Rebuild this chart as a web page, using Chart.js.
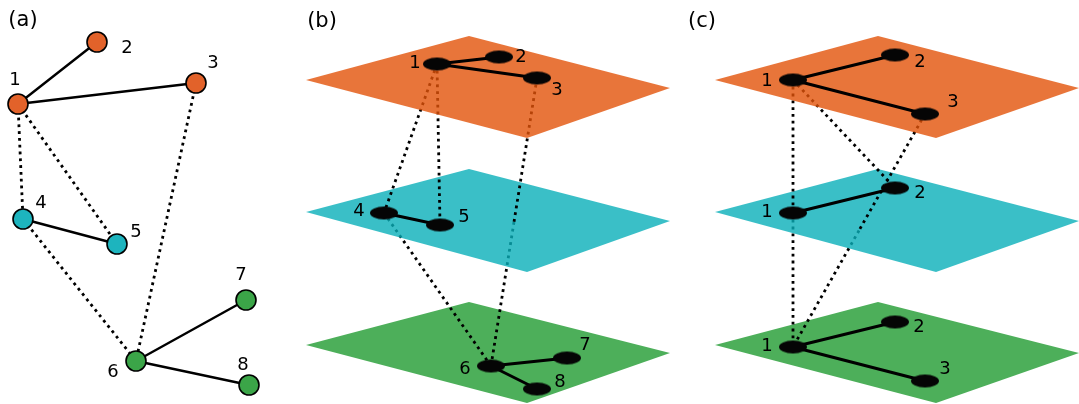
<!DOCTYPE html>
<html><head><meta charset="utf-8">
<script src="https://cdn.jsdelivr.net/npm/chart.js@4/dist/chart.umd.min.js"></script>
<style>html,body{margin:0;padding:0;background:#fff;overflow:hidden}canvas{display:block}</style>
</head><body>
<canvas id="c" width="1079" height="404" style="width:1079px;height:404px"></canvas>
<script>
// ---------------- DATA ----------------
// Panel (a): flat network (node coordinates)
const aNodeX = [18, 97, 196, 23, 117, 136, 246, 249];
const aNodeY = [104, 42, 83, 219, 244, 361, 300, 385];
const aNodeLayer = [0, 0, 0, 1, 1, 2, 2, 2];
const aLabels = ['1', '2', '3', '4', '5', '6', '7', '8'];

// Panel (b): multilayer with original node ids
const bNodeX = [437, 499, 537, 384, 440, 491, 567, 537];
const bNodeY = [64, 57, 78, 213, 225, 366, 358, 389];
const bNodeLayer = [0, 0, 0, 1, 1, 2, 2, 2];
const bLabels = ['1', '2', '3', '4', '5', '6', '7', '8'];

// Panel (c): multilayer with per-layer ids
const cNodeX = [793, 895, 925, 793, 895, 793, 895, 925];
const cNodeY = [80, 55, 114, 213, 188, 347, 322, 381];
const cNodeLayer = [0, 0, 0, 1, 1, 2, 2, 2];
const cLabels = ['1', '2', '3', '1', '2', '1', '2', '3'];

// Edges (same structure in all three panels)
const solidEdges = [[0, 1], [0, 2], [3, 4], [5, 6], [5, 7]];
const dottedEdges = [[0, 3], [0, 4], [2, 5], [3, 5]];

// Layer planes (parallelogram corners)
const bPlaneX = [306, 469, 670, 527];
const cPlaneX = [715, 878, 1079, 936];
const planeYTop = [80, 36, 88, 138];
const planeYMid = [212, 169, 221, 272];
const planeYBot = [345, 302, 353, 403];

const panelTitles = ['(a)', '(b)', '(c)'];

// ---------------- STYLE ----------------
const nodeColors = ['#E2622A', '#1DB4BE', '#3BA548'];
const planeColors = ['rgba(226,83,9,0.8)', 'rgba(9,175,185,0.8)', 'rgb(77,175,90)'];
const aLabelOff = [[-3,-24],[30,6],[17,-20],[18,-16],[19,-12],[-23,11],[-5,-25],[-6,-20]];
const bLabelOff = [[-22,-1],[22,0],[20,12],[-25,-2],[24,-8],[-26,3],[18,-13],[23,-7]];
const cLabelOff = [[-26,1],[25,7],[28,-12],[-26,-1],[25,5],[-26,-1],[24,5],[20,-12]];
const titlePos = [[23,21],[322,22],[702,22]];

const ell = document.createElement('canvas');
ell.width = 30; ell.height = 15;
(function(){const g = ell.getContext('2d'); g.fillStyle = '#050505'; g.beginPath(); g.ellipse(15, 7.5, 14, 6.5, 0, 0, Math.PI * 2); g.fill();})();

const datasets = [];
function pt(xs, ys, i) { return {x: xs[i], y: ys[i]}; }
function seg(p, q, dotted, order, width) {
  datasets.push({
    data: [p, q], showLine: true, pointRadius: 0, fill: false, tension: 0,
    borderColor: '#000', borderWidth: width || 2.8,
    borderDash: dotted ? [2.8, 4] : [], borderCapStyle: dotted ? 'butt' : 'round', order: order
  });
}
function plane(xs, ys, color, order) {
  const d = xs.map((x, i) => ({x: x, y: ys[i]}));
  d.push({x: xs[0], y: ys[0]});
  datasets.push({data: d, showLine: true, pointRadius: 0, fill: 'shape', backgroundColor: color,
    borderWidth: 0, borderColor: 'rgba(0,0,0,0)', tension: 0, order: order});
}
// order: lower = drawn on top
const ORD = {nodes: 1, edges: 2, topPlane: 3, upper: 4, midPlane: 5, lower: 6, botPlane: 7};

[bPlaneX, cPlaneX].forEach(px => {
  plane(px, planeYTop, planeColors[0], ORD.topPlane);
  plane(px, planeYMid, planeColors[1], ORD.midPlane);
  plane(px, planeYBot, planeColors[2], ORD.botPlane);
});

function panel(xs, ys, layers, isFlat) {
  solidEdges.forEach(([i, j]) => seg(pt(xs, ys, i), pt(xs, ys, j), false, ORD.edges, isFlat ? 2.4 : 3));
  dottedEdges.forEach(([i, j]) => {
    const p = pt(xs, ys, i), q = pt(xs, ys, j);
    const li = layers[i], lj = layers[j];
    if (isFlat) { seg(p, q, true, ORD.upper, 2.8); return; }
    if (li === 0 && lj === 1) seg(p, q, true, ORD.upper);
    else if (li === 1 && lj === 2) seg(p, q, true, ORD.lower);
    else {
      const m = {x: (p.x + q.x) / 2, y: (p.y + q.y) / 2};
      seg(p, m, true, ORD.upper);
      seg(m, q, true, ORD.lower);
    }
  });
  const d = xs.map((x, i) => ({x: x, y: ys[i]}));
  if (isFlat) {
    datasets.push({data: d, pointRadius: 10, pointHoverRadius: 10, pointStyle: 'circle',
      pointBackgroundColor: layers.map(l => nodeColors[l]), pointBorderColor: '#000',
      pointBorderWidth: 1.6, showLine: false, order: ORD.nodes});
  } else {
    datasets.push({data: d, pointRadius: 7, pointHoverRadius: 7, pointStyle: ell,
      showLine: false, order: ORD.nodes});
  }
}
panel(aNodeX, aNodeY, aNodeLayer, true);
panel(bNodeX, bNodeY, bNodeLayer, false);
panel(cNodeX, cNodeY, cNodeLayer, false);

const labelPlugin = {
  id: 'nodeLabels',
  afterDatasetsDraw(chart) {
    const ctx = chart.ctx, sx = chart.scales.x, sy = chart.scales.y;
    ctx.save();
    ctx.fillStyle = '#000';
    ctx.textAlign = 'center';
    ctx.textBaseline = 'middle';
    ctx.font = '18px "DejaVu Sans"';
    [[aNodeX, aNodeY, aLabels, aLabelOff], [bNodeX, bNodeY, bLabels, bLabelOff], [cNodeX, cNodeY, cLabels, cLabelOff]]
      .forEach(([xs, ys, lb, off]) => {
        lb.forEach((t, i) => ctx.fillText(t, sx.getPixelForValue(xs[i]) + off[i][0], sy.getPixelForValue(ys[i]) + off[i][1]));
      });
    ctx.font = '21px "DejaVu Sans"';
    panelTitles.forEach((t, i) => ctx.fillText(t, titlePos[i][0], titlePos[i][1]));
    ctx.restore();
  }
};

new Chart(document.getElementById('c'), {
  type: 'scatter',
  data: {datasets: datasets},
  options: {
    responsive: false, animation: false, devicePixelRatio: 1,
    layout: {padding: 0, autoPadding: false},
    events: [],
    plugins: {legend: {display: false}, tooltip: {enabled: false}},
    scales: {
      x: {type: 'linear', display: false, min: 0, max: 1079},
      y: {type: 'linear', display: false, min: 0, max: 404, reverse: true}
    }
  },
  plugins: [labelPlugin]
});
</script>
</body></html>
